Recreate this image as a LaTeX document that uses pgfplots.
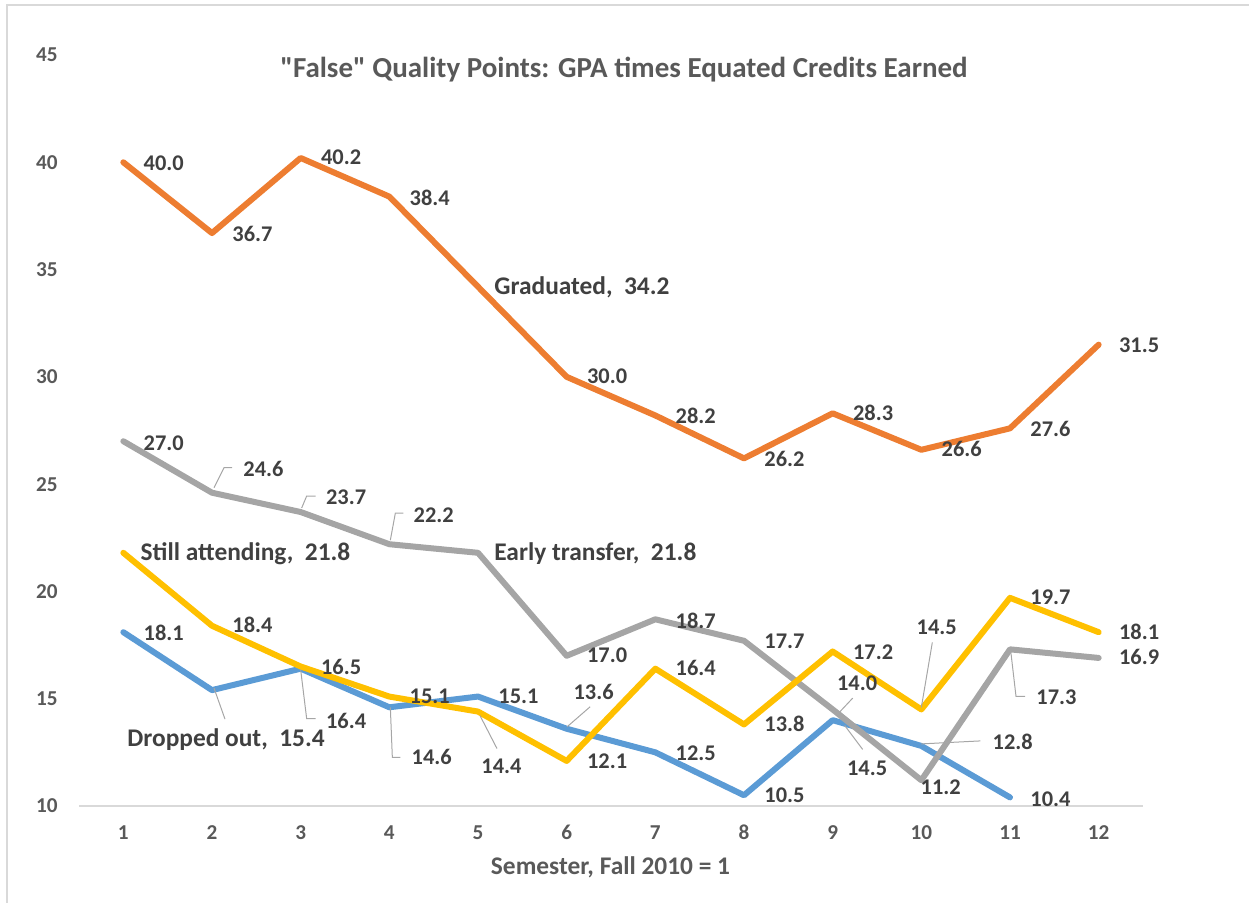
\documentclass[border=0pt]{standalone}
\usepackage{fontspec}
\setmainfont{Carlito}
\newfontfamily\plaincarlito{Carlito}
\usepackage{pgfplots}
\usepackage{pgfplotstable}
\pgfplotsset{compat=1.18}
\definecolor{cOrange}{HTML}{ED7D31}
\definecolor{cGray}{HTML}{A5A5A5}
\definecolor{cYellow}{HTML}{FFC000}
\definecolor{cBlue}{HTML}{5B9BD5}
\definecolor{cLab}{HTML}{404040}
\definecolor{cTick}{HTML}{595959}
\definecolor{cFrame}{HTML}{D9D9D9}
\definecolor{cLeader}{HTML}{A6A6A6}
\newcommand\tk{\fontsize{10.6}{12}\selectfont\bfseries}

\pgfplotstableread[col sep=semicolon]{
x;y;dx;dy;fs;lab
1;40.0;20;8;11.2;40.0
2;36.7;20;8;11.2;36.7
3;40.2;20;7;11.2;40.2
4;38.4;20;9;11.2;38.4
5;34.2;16;8;12.7;Graduated,\ \ 34.2
6;30.0;20;7;11.2;30.0
7;28.2;20;8;11.2;28.2
8;26.2;20;8;11.2;26.2
9;28.3;20;7;11.2;28.3
10;26.6;20;7;11.2;26.6
11;27.6;20;8;11.2;27.6
12;31.5;20;8;11.2;31.5
}\tblGrad

\pgfplotstableread[col sep=semicolon]{
x;y;dx;dy;fs;lab
1;27.0;20;9;11.2;27.0
2;24.6;31;-16;11.2;24.6
3;23.7;25;-8;11.2;23.7
4;22.2;24;-22;11.2;22.2
5;21.8;16;8;12.7;Early transfer,\ \ 21.8
6;17.0;20;7;11.2;17.0
7;18.7;20;9;11.2;18.7
8;17.7;20;8;11.2;17.7
9;14.5;14;66;11.2;14.5
10;11.2;-1;14;11.2;11.2
11;17.3;26;55;11.2;17.3
12;16.9;20;7;11.2;16.9
}\tblTrans

\pgfplotstableread[col sep=semicolon]{
x;y;dx;dy;fs;lab
1;21.8;17;8;12.7;Still attending,\ \ 21.8
2;18.4;20;7;11.2;18.4
3;16.5;20;8;11.2;16.5
4;15.1;20;7;11.2;15.1
5;14.4;3;62;11.2;14.4
6;12.1;20;8;11.2;12.1
7;16.4;20;7;11.2;16.4
8;13.8;20;7;11.2;13.8
9;17.2;20;8;11.2;17.2
10;14.5;-5;-75;11.2;14.5
11;19.7;20;7;11.2;19.7
12;18.1;20;7;11.2;18.1
}\tblStill

\pgfplotstableread[col sep=semicolon]{
x;y;dx;dy;fs;lab
1;18.1;20;8;11.2;18.1
2;15.4;-85;56;12.7;Dropped out,\ \ 15.4
3;16.4;25;60;11.2;16.4
4;14.6;22;57;11.2;14.6
5;15.1;20;7;11.2;15.1
6;13.6;6.5;-29;11.2;13.6
7;12.5;20;8;11.2;12.5
8;10.5;20;7;11.2;10.5
9;14.0;4;-30;11.2;14.0
10;12.8;71;4;11.2;12.8
11;10.4;20;9;11.2;10.4
}\tblDrop

\pgfplotsset{
  serie/.style={line width=3pt, line join=round, line cap=round, mark=none},
  labelplot/.style={draw=none, mark=none, nodes near coords,
    point meta=explicit symbolic,
    visualization depends on={\thisrow{dx}\as\dx},
    visualization depends on={\thisrow{dy}\as\dy},
    visualization depends on={\thisrow{fs}\as\fs},
    nodes near coords style={anchor=base west, inner sep=0pt, text=cLab,
      font=\fontsize{\fs}{\fs}\selectfont\bfseries,
      xshift={0.5pt*(\dx)}, yshift={-0.5pt*(\dy)}}},
}
\tikzset{leader/.style={cLeader, line width=0.5pt}}

\begin{document}
\begin{tikzpicture}
\draw[cFrame, line width=0.75pt] (3.5pt,0pt) -- (3.5pt,449pt) -- (624.5pt,449pt);
\begin{axis}[
  at={(39.5pt,48.5pt)}, anchor=south west,
  scale only axis, width=532pt, height=375.5pt,
  xmin=0.5, xmax=12.5, ymin=10, ymax=45,
  xtick={1,...,12}, ytick={10,15,...,45},
  xticklabels={\tk 1,\tk 2,\tk 3,\tk 4,\tk 5,\tk 6,\tk 7,\tk 8,\tk 9,\tk 10,\tk 11,\tk 12},
  yticklabels={\tk 10,\tk 15,\tk 20,\tk 25,\tk 30,\tk 35,\tk 40,\tk 45},
  axis line style={draw=none}, major tick length=0pt,
  clip=false,
  xticklabel style={text=cTick, inner sep=0pt, anchor=base, yshift=-16.75pt},
  yticklabel style={text=cTick, inner sep=0pt, anchor=east, xshift=-10.5pt},
]
\draw[cFrame, line width=0.75pt] (rel axis cs:0,0) -- (rel axis cs:1,0);

\addplot[serie, cBlue] table[x=x,y=y]{\tblDrop};
\addplot[serie, cOrange] table[x=x,y=y]{\tblGrad};
\addplot[serie, cGray] table[x=x,y=y]{\tblTrans};
\addplot[serie, cYellow] table[x=x,y=y]{\tblStill};

% leader lines
\draw[leader] ([shift={(1pt,2.5pt)}]axis cs:2,24.6) -- ([shift={(6pt,12.5pt)}]axis cs:2,24.6) -- ([shift={(10pt,12.5pt)}]axis cs:2,24.6);
\draw[leader] ([shift={(0.5pt,2pt)}]axis cs:3,23.7) -- ([shift={(3pt,8pt)}]axis cs:3,23.7) -- ([shift={(7.5pt,8pt)}]axis cs:3,23.7);
\draw[leader] ([shift={(0.5pt,2pt)}]axis cs:4,22.2) -- ([shift={(3pt,15.5pt)}]axis cs:4,22.2) -- ([shift={(7pt,15.5pt)}]axis cs:4,22.2);
\draw[leader] ([shift={(6pt,-8pt)}]axis cs:9,14.5) -- ([shift={(15pt,-20pt)}]axis cs:9,14.5);
\draw[leader] ([shift={(0.5pt,-2pt)}]axis cs:11,17.3) -- ([shift={(3pt,-23.5pt)}]axis cs:11,17.3) -- ([shift={(7.5pt,-23.5pt)}]axis cs:11,17.3);
\draw[leader] ([shift={(1pt,-2pt)}]axis cs:5,14.4) -- ([shift={(9.5pt,-18.5pt)}]axis cs:5,14.4);
\draw[leader] ([shift={(0pt,1pt)}]axis cs:10,14.5) -- ([shift={(5.5pt,33.5pt)}]axis cs:10,14.5);
\draw[leader] ([shift={(1pt,1pt)}]axis cs:2,15.4) -- ([shift={(6.5pt,-14.5pt)}]axis cs:2,15.4);
\draw[leader] ([shift={(0pt,-0.5pt)}]axis cs:3,16.4) -- ([shift={(3pt,-25pt)}]axis cs:3,16.4) -- ([shift={(7.5pt,-25pt)}]axis cs:3,16.4);
\draw[leader] ([shift={(0.5pt,0pt)}]axis cs:4,14.6) -- ([shift={(1.5pt,-25pt)}]axis cs:4,14.6) -- ([shift={(5.5pt,-25pt)}]axis cs:4,14.6);
\draw[leader] ([shift={(0.25pt,1pt)}]axis cs:6,13.6) -- ([shift={(11.75pt,11pt)}]axis cs:6,13.6);
\draw[leader] ([shift={(2pt,2.5pt)}]axis cs:9,14.0) -- ([shift={(10pt,11pt)}]axis cs:9,14.0);
\draw[leader] ([shift={(0pt,1pt)}]axis cs:10,12.8) -- ([shift={(29.5pt,2.5pt)}]axis cs:10,12.8);

% data labels
\addplot[labelplot] table[x=x,y=y,meta=lab]{\tblDrop};
\addplot[labelplot] table[x=x,y=y,meta=lab]{\tblGrad};
\addplot[labelplot] table[x=x,y=y,meta=lab]{\tblTrans};
\addplot[labelplot] table[x=x,y=y,meta=lab]{\tblStill};
\end{axis}
\node[anchor=base, inner sep=0pt, font=\fontsize{14.5}{17}\selectfont\bfseries, text=cTick] at (312pt,412.5pt) {{\plaincarlito "}False{\plaincarlito "} Quality Points: GPA times Equated Credits Earned};
\node[anchor=base, inner sep=0pt, font=\fontsize{12.7}{15}\selectfont\bfseries, text=cTick] at (305.25pt,14pt) {Semester, Fall 2010 = 1};
\pgfresetboundingbox
\useasboundingbox (0pt,0pt) rectangle (624.5pt,451.5pt);
\end{tikzpicture}
\end{document}
